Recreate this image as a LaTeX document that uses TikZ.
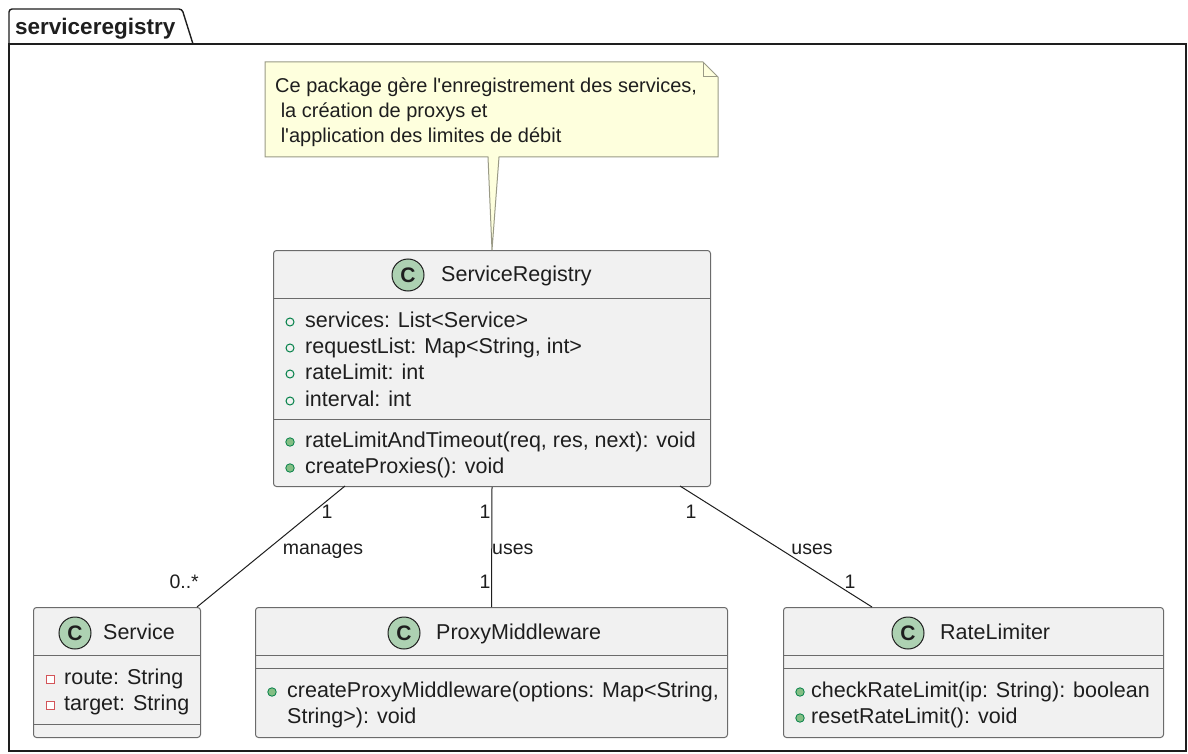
\documentclass[tikz,border=0pt]{standalone}
\usepackage{fontspec}
\setmainfont{Liberation Sans}
\usetikzlibrary{calc}
\definecolor{clsfill}{HTML}{F1F1F1}
\definecolor{clsline}{HTML}{6B6B6B}
\definecolor{circfill}{HTML}{ADD1B2}
\definecolor{pubgreen}{HTML}{038048}
\definecolor{methfill}{HTML}{84BE84}
\definecolor{privred}{HTML}{C82930}
\definecolor{notefill}{HTML}{FEFFDD}
\definecolor{noteline}{HTML}{9A9A86}
\definecolor{ink}{HTML}{1E1E1E}
\begin{document}
\begin{tikzpicture}[x=1pt,y=-1pt,
  cls/.style={draw=clsline, fill=clsfill, line width=1pt, rounded corners=3pt, inner sep=0pt, anchor=north west},
  sep/.style={draw=clsline, line width=1pt},
  txt/.style={inner sep=0pt, anchor=west, text height=15.5pt, text depth=4.5pt, font=\fontsize{21.5}{26}\selectfont, text=ink},
  notetxt/.style={txt, font=\fontsize{20}{25}\selectfont},
  lbl/.style={inner sep=0pt, text height=14pt, text depth=4pt, font=\fontsize{19.5}{23}\selectfont, text=ink},
  badge/.style={circle, draw=ink, fill=circfill, line width=1pt, minimum size=32pt, inner sep=0pt, font=\fontsize{21}{21}\selectfont\bfseries, text=ink},
  pubf/.style={circle, draw=pubgreen, line width=1pt, minimum size=8pt, inner sep=0pt},
  pubm/.style={circle, draw=pubgreen, fill=methfill, line width=0.8pt, minimum size=8.5pt, inner sep=0pt},
  privf/.style={rectangle, draw=privred!80, fill=white, line width=1pt, minimum size=8pt, inner sep=0pt},
  assoc/.style={draw=ink, line width=1pt},
  pkg/.style={draw=ink, line width=1.4pt}
]
\useasboundingbox[fill=white] (0,0) rectangle (1188,754);

% package frame with its tab
\draw[pkg, rounded corners=3pt] (9,44) -- (9,9) -- (182,9) -- (193,44);
\draw[pkg] (9,44) rectangle (1186,751);
\node[inner sep=0pt, anchor=west, font=\fontsize{22.5}{26}\selectfont\bfseries, text=ink,
      text height=15.5pt, text depth=4.5pt] (pkgname) at (15,29) {serviceregistry};

% ---------------- ServiceRegistry ----------------
\node[cls, minimum width=437pt, minimum height=236pt] (reg) at (273,250) {};
\draw[sep] (273,298) -- (710,298);
\draw[sep] (273,419) -- (710,419);
\node[badge] (regC) at (408,275) {C};
\node[txt] (regN) at (441,276) {ServiceRegistry};
\node[pubf] (ra1) at (290,322) {};
\node[txt] (rt1) at (305,322) {services: List<Service>};
\node[pubf] (ra2) at (290,348) {};
\node[txt] (rt2) at (305,348) {requestList: Map<String, int>};
\node[pubf] (ra3) at (290,374) {};
\node[txt] (rt3) at (305,374) {rateLimit: int};
\node[pubf] (ra4) at (290,401) {};
\node[txt] (rt4) at (305,401) {interval: int};
\node[pubm] (rm1) at (290,442) {};
\node[txt] (rmt1) at (305,442) {rateLimitAndTimeout(req, res, next): void};
\node[pubm] (rm2) at (290,468) {};
\node[txt] (rmt2) at (305,468) {createProxies(): void};

% ---------------- Service ----------------
\node[cls, minimum width=167pt, minimum height=130pt] (svc) at (33,607) {};
\draw[sep] (33,655) -- (200,655);
\draw[sep] (33,724) -- (200,724);
\node[badge] (svcC) at (75,633) {C};
\node[txt] (svcN) at (103,634) {Service};
\node[privf] (sa1) at (50,679) {};
\node[txt] (st1) at (64,679) {route: String};
\node[privf] (sa2) at (50,705) {};
\node[txt] (st2) at (64,705) {target: String};

% ---------------- ProxyMiddleware ----------------
\node[cls, minimum width=472pt, minimum height=130pt] (proxy) at (255,607) {};
\draw[sep] (255,655) -- (727,655);
\draw[sep] (255,668) -- (727,668);
\node[badge] (proxyC) at (404,633) {C};
\node[txt] (proxyN) at (436,634) {ProxyMiddleware};
\node[pubm] (pm1) at (272,692) {};
\node[txt] (pmt1) at (287,692) {createProxyMiddleware(options: Map<String,};
\node[txt] (pmt2) at (287,718) {String>): void};

% ---------------- RateLimiter ----------------
\node[cls, minimum width=380pt, minimum height=130pt] (rl) at (783,607) {};
\draw[sep] (783,655) -- (1163,655);
\draw[sep] (783,668) -- (1163,668);
\node[badge] (rlC) at (908,633) {C};
\node[txt] (rlN) at (940,634) {RateLimiter};
\node[pubm] (lm1) at (800,692) {};
\node[txt] (lmt1) at (811,692) {checkRateLimit(ip: String): boolean};
\node[pubm] (lm2) at (800,718) {};
\node[txt] (lmt2) at (811,718) {resetRateLimit(): void};

% ---------------- note ----------------
\draw[draw=noteline, fill=notefill, line width=1pt]
  (265,62) -- (703,62) -- (718,77) -- (718,157) -- (499,157) -- (reg.north) -- (488,157) -- (265,157) -- cycle;
\draw[draw=noteline, line width=1pt] (703,62) -- (703,77) -- (718,77);
\node[notetxt] (n1) at (275,87) {Ce package gère l\textquotesingle enregistrement des services,};
\node[notetxt] (n2) at (275,112) {\ la création de proxys et};
\node[notetxt] (n3) at (275,137) {\ l\textquotesingle application des limites de débit};

% ---------------- associations ----------------
\coordinate (regSW) at (345,486);
\coordinate (svcNE) at (197,607);
\coordinate (regSE) at (680,486);
\coordinate (rlN2) at (872,607);
\draw[assoc] (regSW) -- (svcNE);
\draw[assoc] (reg.south) -- (proxy.north);
\draw[assoc] (regSE) -- (rlN2);

\node[lbl] (m1a) at (327,513) {1};
\node[lbl] (m1l) at (323,549) {manages};
\node[lbl, anchor=east] (m1b) at (199,583) {0..*};
\node[lbl] (m2a) at (485,513) {1};
\node[lbl, anchor=west] (m2l) at (492,549) {uses};
\node[lbl] (m2b) at (485,583) {1};
\node[lbl] (m3a) at (691,513) {1};
\node[lbl] (m3l) at (812,549) {uses};
\node[lbl] (m3b) at (850,583) {1};
\end{tikzpicture}
\end{document}
